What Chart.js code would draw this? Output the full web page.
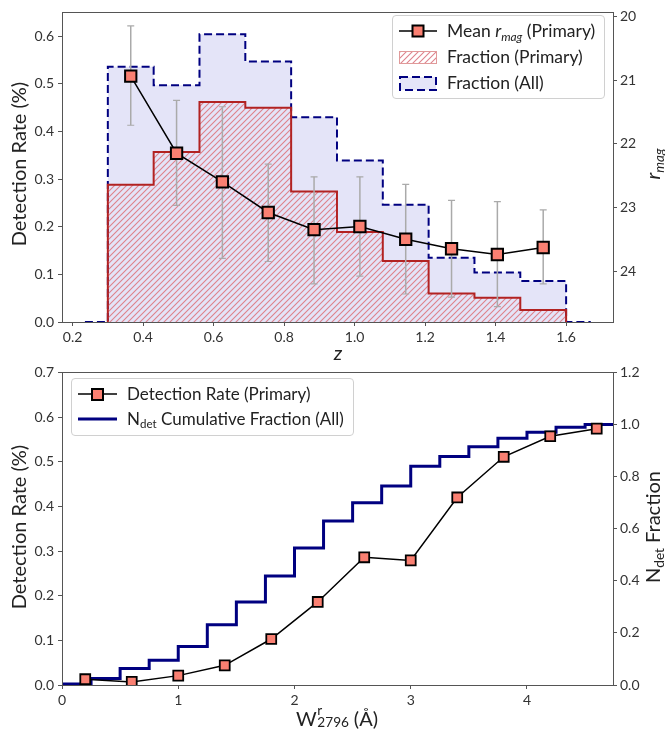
<!DOCTYPE html>
<html>
<head>
<meta charset="utf-8">
<script src="https://cdn.jsdelivr.net/npm/chart.js@4/dist/chart.umd.min.js"></script>
<style>
  body { margin: 0; background: #fff; }
  #wrap { position: relative; width: 665px; height: 737px; font-family: Lato, "DejaVu Sans", sans-serif; color: #222; }
  canvas { position: absolute; left: 0; }
  .lbl { position: absolute; white-space: nowrap; font-size: 20px; transform: translate(-50%, -50%); }
  .rot { transform: translate(-50%, -50%) rotate(-90deg); }
  .legend { position: absolute; border: 1px solid #d0d0d0; border-radius: 4px; background: rgba(255,255,255,0.85); font-size: 17.5px; }
  .legend .row { position: absolute; left: 0; height: 20px; white-space: nowrap; }
  .legend svg { position: absolute; left: 6px; top: 0; }
  .legend span.t { position: absolute; top: 0; line-height: 20px; }
  sub { font-size: 0.68em; vertical-align: -0.3em; line-height: 0; }
  .ss { display: inline-block; position: relative; width: 1.6em; height: 1em; vertical-align: baseline; }
  .ss .up { position: absolute; left: 0.05em; top: -0.3em; font-size: 0.68em; }
  .ss .dn { position: absolute; left: 0.05em; top: 0.6em; font-size: 0.68em; }
</style>
</head>
<body>
<div id="wrap">
  <canvas id="top" width="665" height="360" style="top:0"></canvas>
  <canvas id="bottom" width="665" height="377" style="top:360px"></canvas>

  <div class="lbl rot" style="left:18px; top:164px">Detection Rate (%)</div>
  <div class="lbl rot" style="left:652px; top:164px"><i>r</i><sub><i>mag</i></sub></div>
  <div class="lbl" style="left:338px; top:352px"><i>z</i></div>

  <div class="lbl rot" style="left:18px; top:527px">Detection Rate (%)</div>
  <div class="lbl rot" style="left:652px; top:527px">N<sub>det</sub> Fraction</div>
  <div class="lbl" style="left:337px; top:718px">W<span class="ss"><span class="up">r</span><span class="dn">2796</span></span> (Å)</div>

  <div class="legend" style="left:392px; top:15px; width:211px; height:82px">
    <div class="row" style="top:5px">
      <svg width="38" height="20"><line x1="0" y1="10" x2="38" y2="10" stroke="#000" stroke-width="1.5"/><rect x="13.5" y="4.5" width="11" height="11" fill="#fa8072" stroke="#000" stroke-width="2"/></svg>
      <span class="t" style="left:54px">Mean <i>r</i><sub><i>mag</i></sub> (Primary)</span>
    </div>
    <div class="row" style="top:31px">
      <svg width="38" height="20">
        <defs><pattern id="h1" width="6" height="6" patternUnits="userSpaceOnUse"><path d="M0,6 L6,0 M-1,1 L1,-1 M5,7 L7,5" stroke="rgb(222,130,140)" stroke-width="1.1"/></pattern></defs>
        <rect x="0.5" y="4.5" width="37" height="12" fill="url(#h1)" stroke="#e09a9a" stroke-width="1"/></svg>
      <span class="t" style="left:54px">Fraction (Primary)</span>
    </div>
    <div class="row" style="top:57px">
      <svg width="38" height="20"><rect x="1" y="4" width="36" height="13" fill="#e4e4f8" stroke="#000080" stroke-width="2" stroke-dasharray="8,4"/></svg>
      <span class="t" style="left:54px">Fraction (All)</span>
    </div>
  </div>

  <div class="legend" style="left:71px; top:378px; width:281px; height:56px; font-size:17px">
    <div class="row" style="top:5px">
      <svg width="39" height="20"><line x1="0" y1="10" x2="39" y2="10" stroke="#000" stroke-width="1.5"/><rect x="14" y="5" width="11" height="11" fill="#fa8072" stroke="#000" stroke-width="2"/></svg>
      <span class="t" style="left:55px">Detection Rate (Primary)</span>
    </div>
    <div class="row" style="top:30px">
      <svg width="39" height="20"><line x1="0" y1="10" x2="39" y2="10" stroke="#000080" stroke-width="3"/></svg>
      <span class="t" style="left:55px">N<sub>det</sub> Cumulative Fraction (All)</span>
    </div>
  </div>
</div>

<script>
// --- top panel: detection fraction vs redshift ---
const zEdges = [0.30, 0.43, 0.56, 0.69, 0.82, 0.95, 1.08, 1.21, 1.34, 1.47, 1.60];
const fracPrimary = [0.288, 0.357, 0.462, 0.450, 0.274, 0.189, 0.128, 0.060, 0.051, 0.025];
const fracAll = [0.536, 0.497, 0.604, 0.547, 0.430, 0.339, 0.246, 0.135, 0.104, 0.086];
const allBaseline = [0.235, 1.67];   // zero-height ends of the "All" histogram

const zCentres = [0.365, 0.495, 0.625, 0.755, 0.885, 1.015, 1.145, 1.275, 1.405, 1.535];
const rmagMean = [20.94, 22.15, 22.60, 23.08, 23.35, 23.30, 23.50, 23.65, 23.74, 23.63];
const rmagUpper = [20.15, 21.32, 21.42, 22.32, 22.52, 22.52, 22.64, 22.89, 22.91, 23.04];
const rmagLower = [21.71, 22.97, 23.80, 23.85, 24.20, 24.08, 24.36, 24.41, 24.56, 24.20];

const zTicks = [0.2, 0.4, 0.6, 0.8, 1.0, 1.2, 1.4, 1.6];
const rateTicksTop = [0.0, 0.1, 0.2, 0.3, 0.4, 0.5, 0.6];
const rmagTicks = [20, 21, 22, 23, 24];

// --- bottom panel: detection rate vs equivalent width ---
const wCentres = [0.2, 0.6, 1.0, 1.4, 1.8, 2.2, 2.6, 3.0, 3.4, 3.8, 4.2, 4.6];
const detRate = [0.013, 0.007, 0.021, 0.044, 0.103, 0.186, 0.286, 0.279, 0.420, 0.511, 0.557, 0.574];
const cumEdges = [0, 0.25, 0.5, 0.75, 1.0, 1.25, 1.5, 1.75, 2.0, 2.25, 2.5, 2.75, 3.0, 3.25, 3.5, 3.75, 4.0, 4.25, 4.5, 4.75];
const cumFraction = [0.004, 0.025, 0.063, 0.095, 0.148, 0.231, 0.319, 0.418, 0.526, 0.630, 0.700, 0.764, 0.840, 0.877, 0.915, 0.947, 0.970, 0.989, 1.000];

const wTicks = [0, 1, 2, 3, 4];
const rateTicksBottom = [0.0, 0.1, 0.2, 0.3, 0.4, 0.5, 0.6, 0.7];
const fracTicks = [0.0, 0.2, 0.4, 0.6, 0.8, 1.0, 1.2];

const FONT = { family: 'Lato, "DejaVu Sans", sans-serif', size: 14 };
const AXIS = '#555';

// step outline for a histogram (horizontal first, then vertical)
const histPoints = (edges, heights) => {
  const pts = [{ x: edges[0], y: 0 }];
  heights.forEach((h, i) => pts.push({ x: edges[i], y: h }));
  pts.push({ x: edges[edges.length - 1], y: 0 });
  return pts;
};

const hatch = () => {
  const c = document.createElement('canvas');
  c.width = 6; c.height = 6;
  const g = c.getContext('2d');
  g.strokeStyle = 'rgb(222,130,140)';
  g.lineWidth = 1.1;
  g.beginPath();
  g.moveTo(0, 6); g.lineTo(6, 0);
  g.moveTo(-1, 1); g.lineTo(1, -1);
  g.moveTo(5, 7); g.lineTo(7, 5);
  g.stroke();
  return g.createPattern(c, 'repeat');
};

const frame = {
  id: 'frame',
  afterDraw(chart) {
    const { ctx, chartArea: a } = chart;
    ctx.save();
    ctx.strokeStyle = AXIS;
    ctx.lineWidth = 1;
    ctx.strokeRect(Math.round(a.left) + 0.5, Math.round(a.top) + 0.5, Math.round(a.right - a.left), Math.round(a.bottom - a.top));
    ctx.restore();
  }
};

const axis = (opts) => Object.assign({
  type: 'linear',
  border: { display: false },
  grid: { drawOnChartArea: false, drawTicks: true, tickLength: 4, color: AXIS, tickColor: AXIS },
}, opts);

const fixTicks = (list) => (s) => { s.ticks = list.map(v => ({ value: v })); };

// top chart
const allPts = [{ x: allBaseline[0], y: 0 }].concat(histPoints(zEdges, fracAll), [{ x: allBaseline[1], y: 0 }]);

const errSegments = [];
const errCaps = [];
zCentres.forEach((z, i) => {
  errSegments.push({ x: z, y: rmagUpper[i] }, { x: z, y: rmagLower[i] }, { x: z, y: null });
  errCaps.push({ x: z, y: rmagUpper[i] }, { x: z, y: rmagLower[i] });
});

new Chart(document.getElementById('top'), {
  type: 'line',
  data: {
    datasets: [
      {
        data: zCentres.map((z, i) => ({ x: z, y: rmagMean[i] })),
        yAxisID: 'yR', order: 0,
        borderColor: '#000', borderWidth: 1.5,
        pointStyle: 'rect', pointRadius: 8, pointBackgroundColor: '#fa8072',
        pointBorderColor: '#000', pointBorderWidth: 2,
      },
      {
        data: errCaps, yAxisID: 'yR', order: 1, showLine: false,
        pointStyle: 'line', pointRadius: 3.5, pointBorderColor: '#aaaaaa', pointBorderWidth: 1.2,
      },
      {
        data: errSegments, yAxisID: 'yR', order: 1, spanGaps: false,
        borderColor: '#aaaaaa', borderWidth: 1.5, pointRadius: 0,
      },
      {
        data: histPoints(zEdges, fracPrimary), yAxisID: 'y', order: 2,
        stepped: 'before', borderColor: '#b22222', borderWidth: 2,
        backgroundColor: hatch(), fill: 'origin', pointRadius: 0,
      },
      {
        data: allPts, yAxisID: 'y', order: 3,
        stepped: 'before', borderColor: '#000080', borderWidth: 2, borderDash: [8, 4],
        backgroundColor: '#e4e4f8', fill: 'origin', pointRadius: 0,
      },
    ]
  },
  options: {
    responsive: false, animation: false, devicePixelRatio: 1, events: [],
    layout: { padding: { top: 6, left: 0, right: 0, bottom: 0 } },
    plugins: { legend: { display: false }, tooltip: { enabled: false } },
    scales: {
      x: axis({
        position: 'bottom', min: 0.17, max: 1.733,
        afterBuildTicks: fixTicks(zTicks), afterFit: s => { s.height = 38; },
        ticks: { font: FONT, color: '#333', padding: 3, maxRotation: 0, callback: v => v.toFixed(1) },
      }),
      y: axis({
        position: 'left', min: 0, max: 0.65,
        afterBuildTicks: fixTicks(rateTicksTop), afterFit: s => { s.width = 62; },
        ticks: { font: FONT, color: '#333', padding: 4, callback: v => v.toFixed(1) },
      }),
      yR: axis({
        position: 'right', min: 19.938, max: 24.8, reverse: true,
        afterBuildTicks: fixTicks(rmagTicks), afterFit: s => { s.width = 52; },
        ticks: { font: FONT, color: '#333', padding: 3, callback: v => String(v) },
      }),
    }
  },
  plugins: [frame]
});

// bottom chart
const cumPts = cumEdges.map((w, i) => ({ x: w, y: cumFraction[Math.min(i, cumFraction.length - 1)] }));

new Chart(document.getElementById('bottom'), {
  type: 'line',
  data: {
    datasets: [
      {
        data: wCentres.map((w, i) => ({ x: w, y: detRate[i] })),
        yAxisID: 'y', order: 0,
        borderColor: '#000', borderWidth: 1.5,
        pointStyle: 'rect', pointRadius: 7, pointBackgroundColor: '#fa8072',
        pointBorderColor: '#000', pointBorderWidth: 1.8,
      },
      {
        data: cumPts, yAxisID: 'yR', order: 1,
        stepped: 'before', borderColor: '#000080', borderWidth: 3, pointRadius: 0,
      },
    ]
  },
  options: {
    responsive: false, animation: false, devicePixelRatio: 1, events: [],
    layout: { padding: { top: 9, left: 0, right: 0, bottom: 0 } },
    plugins: { legend: { display: false }, tooltip: { enabled: false } },
    scales: {
      x: axis({
        position: 'bottom', min: 0, max: 4.74,
        afterBuildTicks: fixTicks(wTicks), afterFit: s => { s.height = 52; },
        ticks: { font: FONT, color: '#333', padding: 3, maxRotation: 0, callback: v => String(v) },
      }),
      y: axis({
        position: 'left', min: 0, max: 0.7,
        afterBuildTicks: fixTicks(rateTicksBottom), afterFit: s => { s.width = 62; },
        ticks: { font: FONT, color: '#333', padding: 4, callback: v => v.toFixed(1) },
      }),
      yR: axis({
        position: 'right', min: 0, max: 1.2,
        afterBuildTicks: fixTicks(fracTicks), afterFit: s => { s.width = 52; },
        ticks: { font: FONT, color: '#333', padding: 3, callback: v => v.toFixed(1) },
      }),
    }
  },
  plugins: [frame]
});
</script>
</body>
</html>
